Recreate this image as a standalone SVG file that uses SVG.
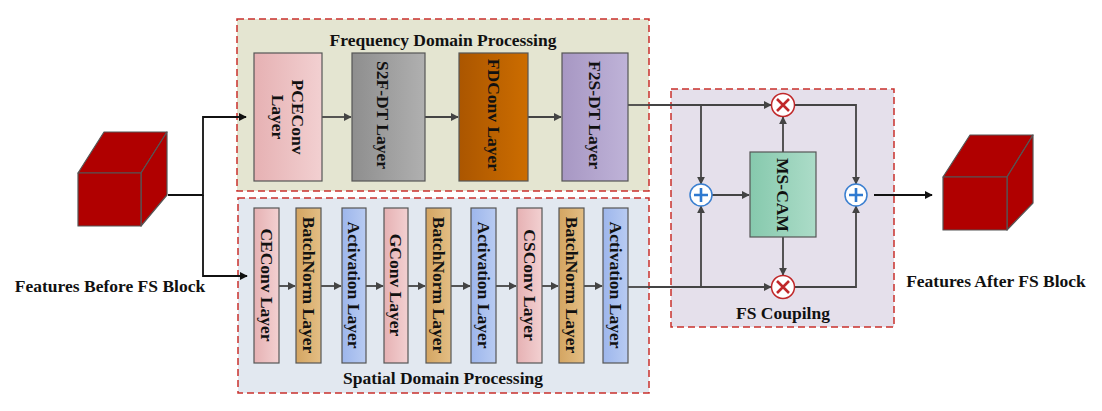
<svg xmlns="http://www.w3.org/2000/svg" width="1102" height="411" viewBox="0 0 1102 411">
<style>
text{font-family:"Liberation Serif","Times New Roman",serif;font-weight:bold;fill:#111;}
.lbl{font-size:17.5px;}
.panel{stroke:#c9302c;stroke-width:1.5;stroke-dasharray:7,4;}
.box{stroke:#555;stroke-width:1.2;}
.ln{fill:none;stroke:#444;stroke-width:1.8;}
.lk{fill:none;stroke:#111;stroke-width:1.8;}
.cube{fill:#b00000;stroke:#555;stroke-width:1.2;stroke-linejoin:round;}
</style>
<defs>
<marker id="ah" viewBox="0 0 10 10" refX="9" refY="5" markerWidth="8" markerHeight="8" markerUnits="userSpaceOnUse" orient="auto"><path d="M0,0 L10,5 L0,10 z" fill="#444"/></marker>
<marker id="ak" viewBox="0 0 10 10" refX="9" refY="5" markerWidth="8" markerHeight="8" markerUnits="userSpaceOnUse" orient="auto"><path d="M0,0 L10,5 L0,10 z" fill="#111"/></marker>
<linearGradient id="gPink"><stop offset="0" stop-color="#e6b1b3"/><stop offset="1" stop-color="#f2d0d1"/></linearGradient>
<linearGradient id="gGray"><stop offset="0" stop-color="#8e8e8e"/><stop offset="1" stop-color="#b0b0b0"/></linearGradient>
<linearGradient id="gOrange"><stop offset="0" stop-color="#ab5600"/><stop offset="1" stop-color="#cc6d00"/></linearGradient>
<linearGradient id="gPurple"><stop offset="0" stop-color="#a797c3"/><stop offset="1" stop-color="#bfb3d8"/></linearGradient>
<linearGradient id="gTan"><stop offset="0" stop-color="#d4a562"/><stop offset="1" stop-color="#e3be84"/></linearGradient>
<linearGradient id="gBlue"><stop offset="0" stop-color="#9db6ec"/><stop offset="1" stop-color="#b8cbf2"/></linearGradient>
<linearGradient id="gGreen"><stop offset="0" stop-color="#86c9ad"/><stop offset="1" stop-color="#acdcc8"/></linearGradient>
<g id="mul"><circle r="11.5" fill="#fff" stroke="#c0282a" stroke-width="1.5"/><path d="M-6,-6 L6,6 M6,-6 L-6,6" stroke="#c0282a" stroke-width="2.6"/></g>
<g id="add"><circle r="11" fill="#fff" stroke="#3a7fd0" stroke-width="1.5"/><path d="M-7,0 L7,0 M0,-7 L0,7" stroke="#2f7ad0" stroke-width="2.6"/></g>
</defs>

<!-- panels -->
<g id="freq-panel">
<rect class="panel" x="237" y="19" width="412" height="172" fill="#e4e5d1"/>
<text class="lbl" x="443" y="46" text-anchor="middle">Frequency Domain Processing</text>
</g>
<g id="spatial-panel">
<rect class="panel" x="238" y="198" width="411" height="195" fill="#e2e8f0"/>
<text class="lbl" x="443" y="384" text-anchor="middle">Spatial Domain Processing</text>
</g>
<g id="coupling-panel">
<rect class="panel" x="671" y="89" width="223" height="238" fill="#e5e0eb"/>
<text class="lbl" x="783" y="319" text-anchor="middle">FS Coupilng</text>
</g>

<!-- connectors -->
<g id="connectors">
<path class="lk" d="M168,195 H203 V117 H246" marker-end="url(#ak)"/>
<path class="lk" d="M203,195 V276 H247" marker-end="url(#ak)" stroke="#555"/>
<path class="ln" d="M322,117 H351" marker-end="url(#ah)"/>
<path class="ln" d="M425,117 H458" marker-end="url(#ah)"/>
<path class="ln" d="M528,117 H561" marker-end="url(#ah)"/>
<path class="ln" d="M279,286 H295" marker-end="url(#ah)"/>
<path class="ln" d="M321,286 H341" marker-end="url(#ah)"/>
<path class="ln" d="M366,286 H383" marker-end="url(#ah)"/>
<path class="ln" d="M408,286 H425" marker-end="url(#ah)"/>
<path class="ln" d="M451,286 H470" marker-end="url(#ah)"/>
<path class="ln" d="M496,286 H516" marker-end="url(#ah)"/>
<path class="ln" d="M542,286 H558" marker-end="url(#ah)"/>
<path class="ln" d="M584,286 H602" marker-end="url(#ah)"/>
<path class="ln" d="M628,105 H649"/>
<path class="ln" d="M628,287 H649"/>
<path class="ln" d="M649,105 H771" marker-end="url(#ah)"/>
<path class="ln" d="M701,105 V184" marker-end="url(#ah)"/>
<path class="ln" d="M649,287 H771" marker-end="url(#ah)"/>
<path class="ln" d="M701,287 V206" marker-end="url(#ah)"/>
<path class="ln" d="M712,195 H749" marker-end="url(#ah)"/>
<path class="ln" d="M783,152 V117" marker-end="url(#ah)"/>
<path class="ln" d="M783,237 V275" marker-end="url(#ah)"/>
<path class="ln" d="M795,105 H856 V184" marker-end="url(#ah)"/>
<path class="ln" d="M795,287 H856 V206" marker-end="url(#ah)"/>
<path class="lk" d="M874,195 H932" marker-end="url(#ak)"/>
</g>

<!-- input cube -->
<g id="input-cube">
<path class="cube" d="M78,173 L104,132 L167,132 L141,173 Z"/>
<path class="cube" d="M141,173 L167,132 L167,195 L141,226 Z"/>
<rect class="cube" x="78" y="173" width="63" height="53"/>
<text class="lbl" x="110" y="292" text-anchor="middle">Features Before FS Block</text>
</g>

<!-- output cube -->
<g id="output-cube">
<path class="cube" d="M943,177 L970,135 L1033,135 L1007,177 Z"/>
<path class="cube" d="M1007,177 L1033,135 L1033,203 L1007,230 Z"/>
<rect class="cube" x="943" y="177" width="64" height="53"/>
<text class="lbl" x="996" y="287" text-anchor="middle">Features After FS Block</text>
</g>

<!-- frequency nodes -->
<g id="pceconv">
<rect class="box" x="254" y="53" width="68" height="128" fill="url(#gPink)"/>
<text class="lbl" transform="translate(288,117) rotate(90)" text-anchor="middle"><tspan x="0" y="-4">PCEConv</tspan><tspan x="0" y="16">Layer</tspan></text>
</g>
<g id="s2f-dt">
<rect class="box" x="352" y="53" width="73" height="128" fill="url(#gGray)"/>
<text class="lbl" transform="translate(388.5,115) rotate(90)" text-anchor="middle" dy="6"><tspan x="0" y="6">S2F-DT Layer</tspan></text>
</g>
<g id="fdconv">
<rect class="box" x="459" y="53" width="69" height="128" fill="url(#gOrange)"/>
<text class="lbl" transform="translate(493.5,115) rotate(90)" text-anchor="middle"><tspan x="0" y="6">FDConv Layer</tspan></text>
</g>
<g id="f2s-dt">
<rect class="box" x="562" y="53" width="66" height="128" fill="url(#gPurple)"/>
<text class="lbl" transform="translate(595,115) rotate(90)" text-anchor="middle"><tspan x="0" y="6">F2S-DT Layer</tspan></text>
</g>

<!-- spatial nodes -->
<g id="ceconv"><rect class="box" x="254" y="208" width="25" height="155" fill="url(#gPink)"/><text class="lbl" transform="translate(266.5,285) rotate(90)" text-anchor="middle" y="6">CEConv Layer</text></g>
<g id="bn1"><rect class="box" x="296" y="208" width="25" height="155" fill="url(#gTan)"/><text class="lbl" transform="translate(308.5,285) rotate(90)" text-anchor="middle" y="6">BatchNorm Layer</text></g>
<g id="act1"><rect class="box" x="342" y="208" width="24" height="155" fill="url(#gBlue)"/><text class="lbl" transform="translate(354,285) rotate(90)" text-anchor="middle" y="6">Activation Layer</text></g>
<g id="gconv"><rect class="box" x="384" y="208" width="24" height="155" fill="url(#gPink)"/><text class="lbl" transform="translate(396,285) rotate(90)" text-anchor="middle" y="6">GConv Layer</text></g>
<g id="bn2"><rect class="box" x="426" y="208" width="25" height="155" fill="url(#gTan)"/><text class="lbl" transform="translate(438.5,285) rotate(90)" text-anchor="middle" y="6">BatchNorm Layer</text></g>
<g id="act2"><rect class="box" x="471" y="208" width="25" height="155" fill="url(#gBlue)"/><text class="lbl" transform="translate(483.5,285) rotate(90)" text-anchor="middle" y="6">Activation Layer</text></g>
<g id="csconv"><rect class="box" x="517" y="208" width="25" height="155" fill="url(#gPink)"/><text class="lbl" transform="translate(529.5,285) rotate(90)" text-anchor="middle" y="6">CSConv Layer</text></g>
<g id="bn3"><rect class="box" x="559" y="208" width="25" height="155" fill="url(#gTan)"/><text class="lbl" transform="translate(571.5,285) rotate(90)" text-anchor="middle" y="6">BatchNorm Layer</text></g>
<g id="act3"><rect class="box" x="603" y="208" width="25" height="155" fill="url(#gBlue)"/><text class="lbl" transform="translate(615.5,285) rotate(90)" text-anchor="middle" y="6">Activation Layer</text></g>

<!-- coupling nodes -->
<g id="ms-cam"><rect class="box" x="750" y="152" width="66" height="85" fill="url(#gGreen)"/><text class="lbl" transform="translate(783,195) rotate(90)" text-anchor="middle" y="6">MS-CAM</text></g>
<g id="mul-top"><use href="#mul" x="783" y="105"/></g>
<g id="mul-bottom"><use href="#mul" x="783" y="287"/></g>
<g id="add-left"><use href="#add" x="701" y="195"/></g>
<g id="add-right"><use href="#add" x="856" y="195"/></g>
</svg>
